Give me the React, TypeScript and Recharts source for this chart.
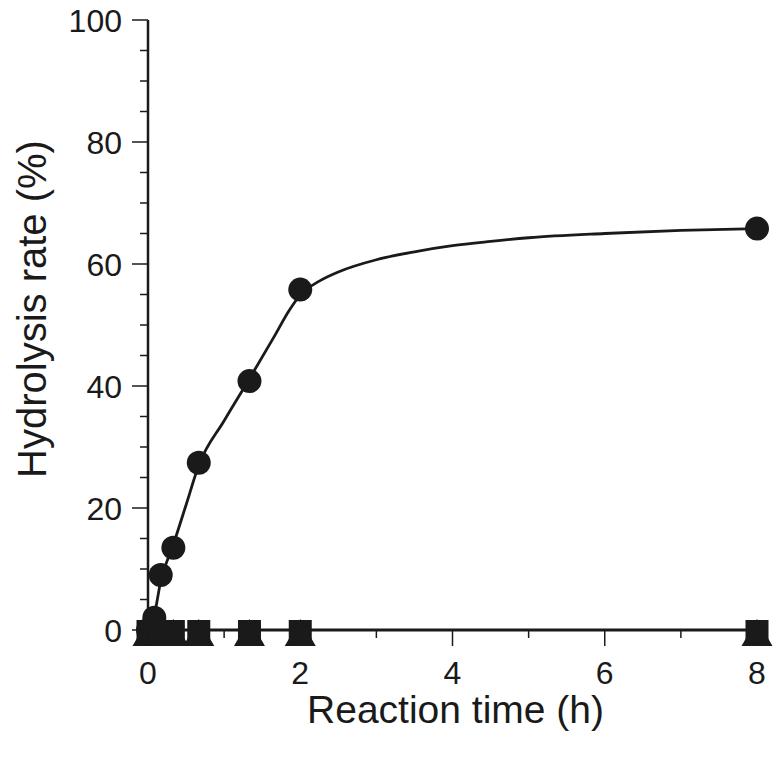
import { ComposedChart, Label, Line, Scatter, XAxis, YAxis } from "recharts";

// reaction times (h) and hydrolysis rates (%)
const times = [0, 0.083, 0.167, 0.333, 0.667, 1.333, 2, 8];
const circleRates = [0, 2, 9, 13.5, 27.4, 40.8, 55.8, 65.8];
const squareRates = [0, 0, 0, 0, 0, 0, 0, 0];
const triangleRates = [0, 0, 0, 0, 0, 0, 0, 0];

// fitted curve
const fitTimes = [0, 0.083, 0.167, 0.333, 0.5, 0.667, 1, 1.333, 1.667, 1.85, 2, 2.25, 2.5, 3, 3.5, 4, 4.5, 5, 6, 7, 8];
const fitRates = [0, 2.5, 8, 14, 20.5, 27, 34.3, 41.2, 48.3, 52.3, 54.9, 57.2, 58.7, 60.7, 62, 63, 63.7, 64.3, 65, 65.5, 65.8];

const xTicks = [0, 1, 2, 3, 4, 5, 6, 7, 8];
const xLabels = [0, 2, 4, 6, 8];
const yTicks = [0, 5, 10, 15, 20, 25, 30, 35, 40, 45, 50, 55, 60, 65, 70, 75, 80, 85, 90, 95, 100];
const yLabels = [0, 20, 40, 60, 80, 100];

const INK = "#1a1a1a";
const FONT = "'Liberation Sans', Arial, sans-serif";

const circleData = times.map((t, i) => ({ t, rate: circleRates[i] }));
const squareData = times.map((t, i) => ({ t, rate: squareRates[i] }));
const triangleData = times.map((t, i) => ({ t, rate: triangleRates[i] }));
const fitData = fitTimes.map((t, i) => ({ t, rate: fitRates[i] }));

function XTick({ x, y, payload }: any) {
  const major = xLabels.includes(payload.value);
  return (
    <g>
      <line x1={x} x2={x} y1={y} y2={y + (major ? 16 : 8)} stroke={INK} strokeWidth={1.5} />
      {major && (
        <text x={x} y={y + 54} textAnchor="middle" fontSize={32} fontFamily={FONT} fill={INK}>
          {payload.value}
        </text>
      )}
    </g>
  );
}

function YTick({ x, y, payload }: any) {
  const major = yLabels.includes(payload.value);
  return (
    <g>
      <line x1={x - (major ? 16 : 8)} x2={x} y1={y} y2={y} stroke={INK} strokeWidth={1.5} />
      {major && (
        <text x={x - 26} y={y} dy="0.36em" textAnchor="end" fontSize={32} fontFamily={FONT} fill={INK}>
          {payload.value}
        </text>
      )}
    </g>
  );
}

const Circle = ({ cx, cy }: any) => <circle cx={cx} cy={cy} r={12} fill={INK} />;
const Square = ({ cx, cy }: any) => <rect x={cx - 11.5} y={cy - 10} width={23} height={22} fill={INK} />;
const Triangle = ({ cx, cy }: any) => (
  <polygon points={`${cx},${cy - 11} ${cx - 15.5},${cy + 16} ${cx + 15.5},${cy + 16}`} fill={INK} />
);

export default function App() {
  return (
    <div style={{ position: "absolute", left: 0, top: 0, background: "#fff" }}>
      <ComposedChart width={776} height={757} margin={{ top: 20, right: 19, bottom: 0, left: 0 }}>
        <XAxis
          type="number"
          dataKey="t"
          domain={[0, 8]}
          ticks={xTicks}
          interval={0}
          tickSize={0}
          tickMargin={0}
          tickLine={false}
          tick={<XTick />}
          axisLine={{ stroke: INK, strokeWidth: 3 }}
          height={127}
        >
          <Label
            content={({ viewBox }: any) => (
              <text
                x={viewBox.x + viewBox.width / 2 + 3}
                y={viewBox.y + 93}
                textAnchor="middle"
                fontSize={39}
                fontFamily={FONT}
                fill={INK}
              >
                Reaction time (h)
              </text>
            )}
          />
        </XAxis>
        <YAxis
          type="number"
          dataKey="rate"
          domain={[0, 100]}
          ticks={yTicks}
          interval={0}
          tickSize={0}
          tickMargin={0}
          tickLine={false}
          tick={<YTick />}
          axisLine={{ stroke: INK, strokeWidth: 2.5 }}
          width={148}
        >
          <Label
            content={({ viewBox }: any) => {
              const cx = viewBox.x + 32;
              const cy = viewBox.y + viewBox.height / 2 - 16;
              return (
                <text
                  x={cx}
                  y={cy}
                  transform={`rotate(-90, ${cx}, ${cy})`}
                  textAnchor="middle"
                  dominantBaseline="central"
                  fontSize={40}
                  fontFamily={FONT}
                  fill={INK}
                >
                  Hydrolysis rate (%)
                </text>
              );
            }}
          />
        </YAxis>
        <Line
          data={fitData}
          dataKey="rate"
          type="monotone"
          stroke={INK}
          strokeWidth={2.8}
          dot={false}
          activeDot={false}
          isAnimationActive={false}
        />
        <Scatter data={squareData} dataKey="rate" shape={<Square />} isAnimationActive={false} />
        <Scatter data={triangleData} dataKey="rate" shape={<Triangle />} isAnimationActive={false} />
        <Scatter data={circleData} dataKey="rate" shape={<Circle />} isAnimationActive={false} />
      </ComposedChart>
    </div>
  );
}
